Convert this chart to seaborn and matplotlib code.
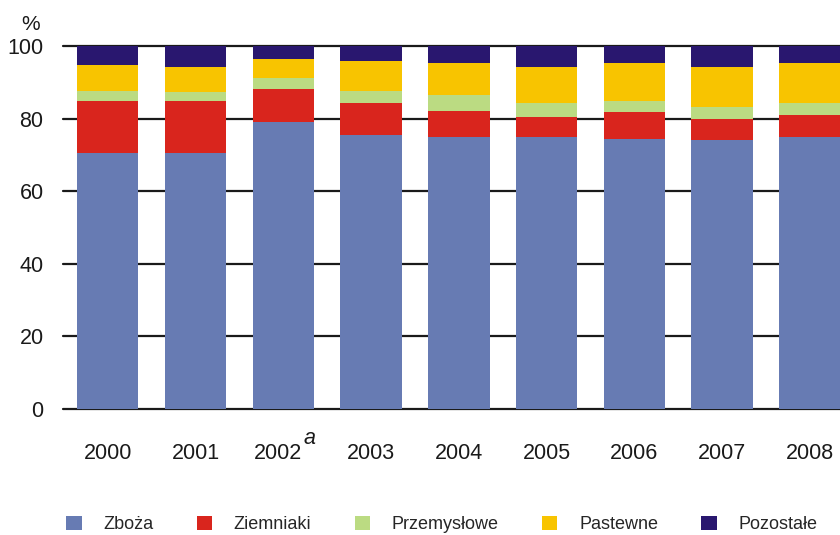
import seaborn as sns
import matplotlib.pyplot as plt
import numpy as np
import pandas as pd
from matplotlib.patches import Patch
from matplotlib.transforms import ScaledTranslation, blended_transform_factory

years = ["2000", "2001", "2002", "2003", "2004", "2005", "2006", "2007", "2008"]
zboza = [70.5, 70.5, 79.1, 75.5, 74.9, 74.9, 74.4, 74.1, 74.9]
ziemniaki = [14.3, 14.3, 9.1, 8.8, 7.2, 5.5, 7.4, 5.8, 6.1]
przemyslowe = [2.8, 2.6, 3.0, 3.3, 4.4, 3.9, 3.0, 3.3, 3.3]
pastewne = [7.2, 6.8, 5.2, 8.3, 8.8, 9.9, 10.5, 11.0, 11.0]
pozostale = [5.2, 5.8, 3.6, 4.1, 4.7, 5.8, 4.7, 5.8, 4.7]

names = ["Zboża", "Ziemniaki", "Przemysłowe", "Pastewne", "Pozostałe"]
colors = ["#677bb3", "#d9251d", "#bbdb82", "#f8c400", "#29176f"]

df = pd.DataFrame({"rok": years, "Zboża": zboza, "Ziemniaki": ziemniaki,
                   "Przemysłowe": przemyslowe, "Pastewne": pastewne,
                   "Pozostałe": pozostale})
cum = df[names].cumsum(axis=1)
cum["rok"] = df["rok"]

sns.set_style("white")
plt.rcParams['font.family'] = ['Liberation Sans', 'DejaVu Sans']

fig = plt.figure(figsize=(8.4, 5.35), dpi=100)
ax = fig.add_axes([0.075, 0.232, 0.93, 0.6854])

# stacked bars: draw cumulative totals from top category down
for name, col in reversed(list(zip(names, colors))):
    sns.barplot(data=cum, x="rok", y=name, color=col, width=0.7,
                saturation=1, ax=ax, zorder=3, edgecolor="none", linewidth=0)

for v in range(0, 101, 20):
    ax.axhline(v, color="#1a1a1a", lw=1.6, zorder=1, clip_on=False)

ax.set_ylim(-0.5, 100.5)
ax.set_xlim(-0.51, 8.39)
ax.set_yticks(range(0, 101, 20))
ax.set_xticks(range(len(years)))
ax.set_xticklabels(years)
ax.tick_params(axis="y", length=0, pad=14, labelsize=15.5, labelcolor="#1a1a1a")
ax.tick_params(axis="x", length=0, pad=23, labelsize=15.5, labelcolor="#1a1a1a")
ax.set_xlabel("")
ax.set_ylabel("")
sns.despine(ax=ax, left=True, bottom=True)

# footnote mark on 2002
lab = ax.get_xticklabels()[2]
lab.set_transform(lab.get_transform() + ScaledTranslation(-4 / 72, 0, fig.dpi_scale_trans))
trans = blended_transform_factory(ax.transData, ax.transAxes)
ax.annotate("a", xy=(2, 0), xycoords=trans, xytext=(19, -20), textcoords="offset points",
            fontsize=15.5, style="italic", color="#1a1a1a", ha="center", va="center")

ax.text(-0.042, 1.055, "%", transform=ax.transAxes, fontsize=15,
        ha="center", va="center", color="#1a1a1a")

handles = [Patch(facecolor=c, edgecolor="none", label=n) for n, c in zip(names, colors)]
fig.legend(handles=handles, loc="center", bbox_to_anchor=(0.526, 0.02),
           ncol=5, frameon=False, fontsize=13, handlelength=0.85,
           handleheight=0.85, handletextpad=1.2, columnspacing=2.4)

fig.savefig("out.png", dpi=100)
